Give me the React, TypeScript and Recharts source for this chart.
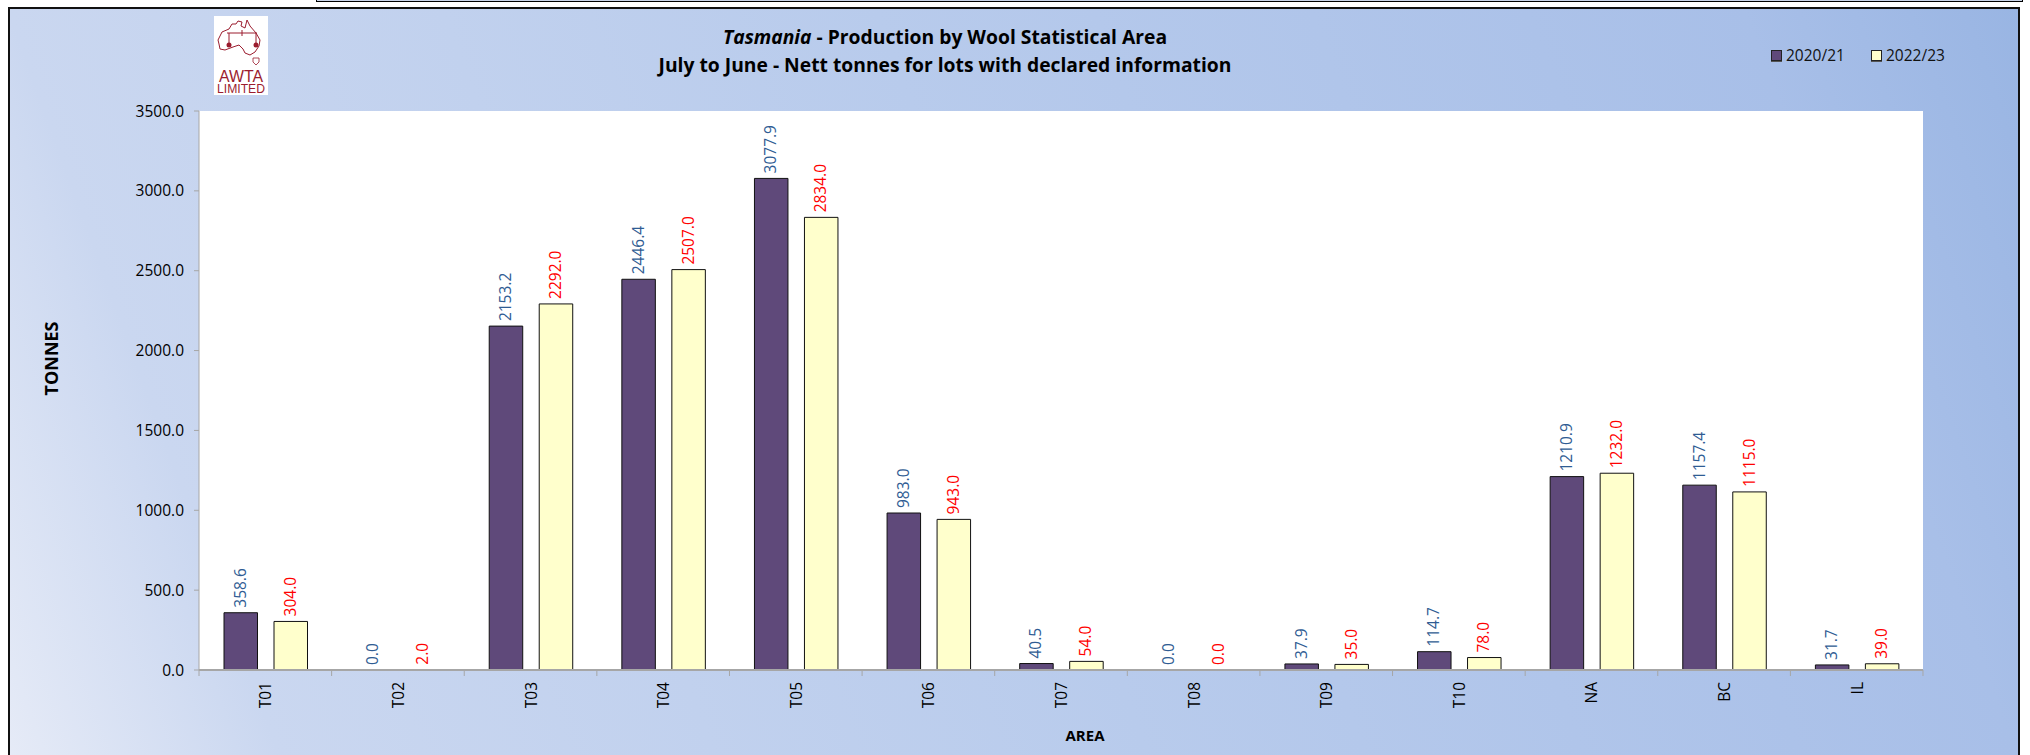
import React from "react";
import { ComposedChart, Bar, Line, XAxis, YAxis, CartesianGrid, LabelList, Label, Legend } from "recharts";

const categories = ["T01", "T02", "T03", "T04", "T05", "T06", "T07", "T08", "T09", "T10", "NA", "BC", "IL"];
const values2021 = [358.6, 0, 2153.2, 2446.4, 3077.9, 983.0, 40.5, 0, 37.9, 114.7, 1210.9, 1157.4, 31.7];
const values2223 = [304.0, 2.0, 2292.0, 2507.0, 2834.0, 943.0, 54.0, 0, 35.0, 78.0, 1232.0, 1115.0, 39.0];
const yTicks = [0, 500, 1000, 1500, 2000, 2500, 3000, 3500];
const seriesNames = ["2020/21", "2022/23"];
const data = categories.map((c, i) => ({ c, a: values2021[i], b: values2223[i] }));

const FONT = "'Open Sans', sans-serif";
const PURPLE = "#5F497A";
const YELLOW = "#FFFFCC";
const BAND = 132.6;

const makeLabel = (color: string, shift: number) => (p: any) => {
  const box = p.viewBox ?? p;
  const cx = box.x + (box.width || 0) / 2 + shift;
  const y = box.y - 5;
  return (
    <text x={cx} y={y} transform={`rotate(-90 ${cx} ${y})`} dy={5} textAnchor="start" fontFamily={FONT} fontSize={15.5} fill={color}>
      {Number(p.value ?? 0).toFixed(1)}
    </text>
  );
};

const CatTick = (p: any) => {
  const { x, payload, index } = p;
  const left = x - BAND / 2;
  const top = 670;
  const tx = x + 1;
  return (
    <g>
      <line x1={left} x2={left} y1={top} y2={top + 6} stroke="#A6A6A6" strokeWidth={1} />
      {index === categories.length - 1 && (
        <line x1={x + BAND / 2} x2={x + BAND / 2} y1={top} y2={top + 6} stroke="#A6A6A6" strokeWidth={1} />
      )}
      <text x={tx} y={top + 12} dy={5} transform={`rotate(-90 ${tx} ${top + 12})`} textAnchor="end" fontFamily={FONT} fontSize={15.5} fill="#000">
        {payload.value}
      </text>
    </g>
  );
};

const LegendBox = () => (
  <div style={{ position: "relative", width: 200, height: 24, fontFamily: FONT, fontSize: 15.5, color: "#111" }}>
    {seriesNames.map((n, i) => (
      <React.Fragment key={n}>
        <span style={{ position: "absolute", left: i * 100, top: 6, width: 9, height: 9, background: i ? YELLOW : PURPLE, border: "1px solid #222", boxShadow: "0 1px 0 #555" }} />
        <span style={{ position: "absolute", left: 15 + i * 100, top: 1, lineHeight: "20px" }}>{n}</span>
      </React.Fragment>
    ))}
  </div>
);

const Logo = () => (
  <div style={{ position: "absolute", left: 214, top: 16, width: 54, height: 79, background: "#fff" }}>
    <svg width={54} height={79} viewBox="0 0 54 79">
      <path
        d="M4 24 L8 16 L15 13 L18 8 L22 8 L24 5 L28 6 L27 10 L31 12 L33 4 L36 10 L42 17 L46 24 L45 30 L41 36 L36 39 L31 37 L29 33 L25 29 L19 31 L11 34 L6 33 L5 28 Z"
        fill="none" stroke="#9B1C2E" strokeWidth={1}
      />
      <path d="M13 17 H43 M28 14 V20 M15 17 V27 M42 17 V27" stroke="#9B1C2E" strokeWidth={1} fill="none" />
      <circle cx={15} cy={29} r={2.5} fill="#9B1C2E" />
      <circle cx={42} cy={29} r={2.5} fill="#9B1C2E" />
      <path d="M39 42 H45 V46 L42 49 L39 46 Z" fill="none" stroke="#9B1C2E" strokeWidth={0.8} />
      <text x={27} y={66} textAnchor="middle" fontFamily="'Liberation Sans', sans-serif" fontSize={16} fill="#9B1C2E" textLength={44} lengthAdjust="spacingAndGlyphs">AWTA</text>
      <text x={27} y={77} textAnchor="middle" fontFamily="'Liberation Sans', sans-serif" fontSize={12.5} fill="#9B1C2E" textLength={48} lengthAdjust="spacingAndGlyphs">LIMITED</text>
    </svg>
  </div>
);

export default function App() {
  return (
    <div style={{ position: "absolute", left: 0, top: 0, width: 2030, height: 755, background: "#fff", overflow: "hidden" }}>
      <div style={{ position: "absolute", left: 316, top: -2, width: 1705, height: 2, border: "1px solid #000", background: "#c9d4e8" }} />
      <div
        style={{
          position: "absolute", left: 8, top: 7, width: 2008, height: 760,
          border: "2px solid #111",
          background: "linear-gradient(70deg, #E6EBF7 0%, #CAD7F0 12%, #B8CBEC 50%, #A8BFE8 88%, #99B5E3 100%)",
        }}
      />
      <Logo />
      <div style={{ position: "absolute", left: 0, top: 23, width: 1890, textAlign: "center", fontFamily: FONT, fontSize: 19.3, fontWeight: 700, lineHeight: "28px", color: "#000" }}>
        <div><i>Tasmania</i> - Production by Wool Statistical Area</div>
        <div>July to June - Nett tonnes for lots with declared information</div>
      </div>
      <ComposedChart
        width={2030}
        height={755}
        data={data}
        margin={{ top: 87, right: 107, bottom: 0, left: 0 }}
        barGap={16.5}
        barSize={33.5}
        style={{ position: "absolute", left: 0, top: 0 }}
      >
        <CartesianGrid horizontal={false} vertical={false} fill="#fff" />
        <XAxis dataKey="c" height={85} interval={0} tickLine={false} tick={<CatTick />} axisLine={{ stroke: "#A6A6A6", strokeWidth: 2 }}>
          <Label value="AREA" position="insideBottom" offset={14} dx={24} fontFamily={FONT} fontSize={15} fontWeight={700} fill="#000" />
        </XAxis>
        <YAxis
          width={199}
          domain={[0, 3500]}
          ticks={yTicks}
          tickFormatter={(v: number) => v.toFixed(1)}
          tick={{ fontFamily: FONT, fontSize: 15.5, fill: "#000" }}
          tickLine={{ stroke: "#A6A6A6" }}
          tickSize={5}
          tickMargin={10}
          axisLine={{ stroke: "#A6A6A6", strokeWidth: 1 }}
        >
          <Label value="TONNES" angle={-90} position="insideLeft" offset={52} dy={5} fontFamily={FONT} fontSize={18} fontWeight={700} fill="#000" />
        </YAxis>
        <Legend
          content={<LegendBox />}
          layout="horizontal"
          verticalAlign="top"
          align="left"
          wrapperStyle={{ position: "absolute", left: 1771, top: 44, width: 200 }}
        />
        <Bar dataKey="a" name={seriesNames[0]} fill={PURPLE} stroke="#111" strokeWidth={1} isAnimationActive={false} />
        <Bar dataKey="b" name={seriesNames[1]} fill={YELLOW} stroke="#111" strokeWidth={1} isAnimationActive={false} />
        <Line dataKey="a" stroke="none" dot={false} activeDot={false} legendType="none" isAnimationActive={false}>
          <LabelList dataKey="a" content={makeLabel("#2F5C93", -24.5)} />
        </Line>
        <Line dataKey="b" stroke="none" dot={false} activeDot={false} legendType="none" isAnimationActive={false}>
          <LabelList dataKey="b" content={makeLabel("#FF0000", 25.5)} />
        </Line>
      </ComposedChart>
    </div>
  );
}
